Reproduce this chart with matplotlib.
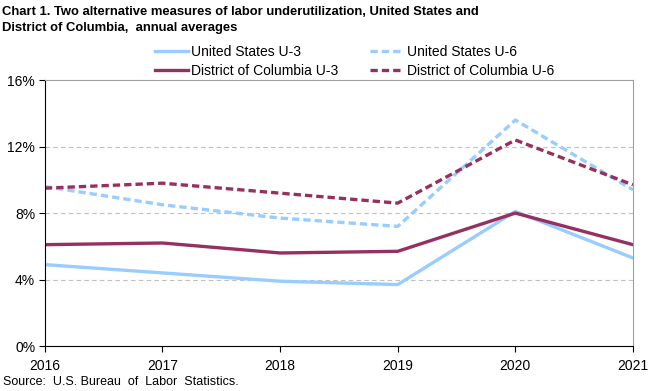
import matplotlib.pyplot as plt
from matplotlib.ticker import FuncFormatter

plt.rcParams['font.family'] = ['Liberation Sans', 'DejaVu Sans']

years = [2016, 2017, 2018, 2019, 2020, 2021]
us_u3 = [4.9, 4.4, 3.9, 3.7, 8.1, 5.3]
us_u6 = [9.6, 8.5, 7.7, 7.2, 13.6, 9.4]
dc_u3 = [6.1, 6.2, 5.6, 5.7, 8.0, 6.1]
dc_u6 = [9.5, 9.8, 9.2, 8.6, 12.4, 9.7]

BLUE = '#99ccff'
MAROON = '#96305f'

fig = plt.figure(figsize=(6.6, 3.91), dpi=100)
ax = fig.add_axes([0.068, 0.115, 0.891, 0.68])

lw = 2.4
ax.plot(years, us_u3, color=BLUE, lw=lw, label='United States U-3')
ax.plot(years, us_u6, color=BLUE, lw=lw, ls=(0, (2.2, 1.2)), label='United States U-6')
ax.plot(years, dc_u3, color=MAROON, lw=lw, label='District of Columbia U-3')
ax.plot(years, dc_u6, color=MAROON, lw=lw, ls=(0, (2.2, 1.2)), label='District of Columbia U-6')

ax.set_xlim(2016, 2021)
ax.set_ylim(0, 16)
ax.set_yticks([0, 4, 8, 12, 16])
ax.yaxis.set_major_formatter(FuncFormatter(lambda v, p: f'{v:.0f}%'))
ax.set_xticks(years)
ax.tick_params(labelsize=10, length=4, color='black', pad=3)
ax.tick_params(axis='x', pad=5)
for y in [4, 8, 12]:
    ax.axhline(y, color='#bfbfbf', lw=0.8, ls=(0, (4, 3)), zorder=0)

for s in ['top', 'right']:
    ax.spines[s].set_color('#a0a0a0')
for s in ['left', 'bottom']:
    ax.spines[s].set_color('black')

handles, labels = ax.get_legend_handles_labels()
order = [0, 2, 1, 3]
fig.legend([handles[i] for i in order], [labels[i] for i in order],
           ncol=2, loc='upper left', bbox_to_anchor=(0.235, 0.885),
           frameon=False, fontsize=10, handlelength=2.4, handletextpad=0.2,
           columnspacing=2.3, labelspacing=0.35, borderaxespad=0, borderpad=0)

fig.text(0.003, 0.985, 'Chart 1. Two alternative measures of labor underutilization, United States and\n'
         'District of Columbia,  annual averages', fontsize=9.4, fontweight='bold',
         va='top', ha='left', linespacing=1.45)
fig.text(0.005, 0.008, 'Source:  U.S. Bureau  of  Labor  Statistics.', fontsize=9, va='bottom')

fig.savefig('out.png', dpi=100)
